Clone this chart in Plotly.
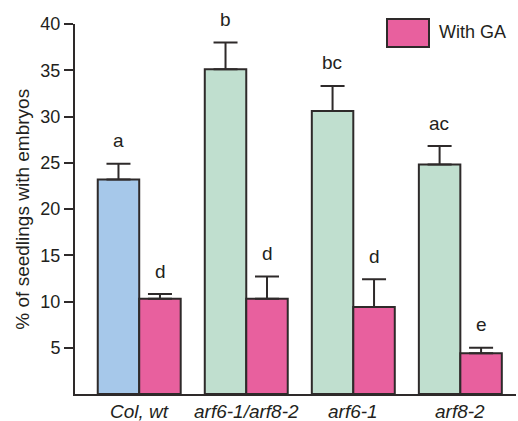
import plotly.graph_objects as go

categories = ["Col, wt", "arf6-1/arf8-2", "arf6-1", "arf8-2"]
without_ga = [23.2, 35.1, 30.6, 24.8]
without_ga_err = [1.7, 2.9, 2.7, 2.0]
with_ga = [10.3, 10.3, 9.4, 4.4]
with_ga_err = [0.5, 2.4, 3.0, 0.6]
letters_without = ["a", "b", "bc", "ac"]
letters_with = ["d", "d", "d", "e"]
ytick_vals = [5, 10, 15, 20, 25, 30, 35, 40]

BLUE = "#a6c8ea"
GREEN = "#c0dfcf"
PINK = "#e8609e"
EDGE = "#2e2a2a"
TXT = "#231f20"
FAM = "Liberation Sans, Arial, sans-serif"

fig = go.Figure()
fig.add_trace(go.Bar(
    x=categories, y=without_ga,
    marker=dict(color=[BLUE, GREEN, GREEN, GREEN], line=dict(color=EDGE, width=2)),
    error_y=dict(type="data", array=without_ga_err, arrayminus=[0] * 4,
                 symmetric=False, color=EDGE, thickness=2, width=12),
    showlegend=False, hoverinfo="skip",
))
fig.add_trace(go.Bar(
    x=categories, y=with_ga, name="With GA",
    marker=dict(color=PINK, line=dict(color=EDGE, width=2)),
    error_y=dict(type="data", array=with_ga_err, arrayminus=[0] * 4,
                 symmetric=False, color=EDGE, thickness=2, width=12),
    showlegend=False, hoverinfo="skip",
))

# significance letters
for i, c in enumerate(categories):
    fig.add_annotation(x=c, y=without_ga[i] + without_ga_err[i], text=letters_without[i],
                       xshift=-21, yshift=23, yanchor="middle", showarrow=False,
                       font=dict(family=FAM, size=19, color=TXT))
    fig.add_annotation(x=c, y=with_ga[i] + with_ga_err[i], text=letters_with[i],
                       xshift=21, yshift=23, yanchor="middle", showarrow=False,
                       font=dict(family=FAM, size=19, color=TXT))
    # category labels (italic)
    fig.add_annotation(x=c, y=0, yref="paper", text=f"<i>{c}</i>", yanchor="top",
                       yshift=-5, showarrow=False,
                       font=dict(family=FAM, size=19, color=TXT))

# y axis title
fig.add_annotation(xref="paper", yref="paper", x=-0.121, y=0.5,
                   text="% of seedlings with embryos", textangle=-90,
                   showarrow=False, xanchor="center", yanchor="middle",
                   font=dict(family=FAM, size=19, color=TXT))

# manual legend
fig.add_shape(type="rect", xref="paper", yref="paper",
              x0=(387 - 75) / 441, x1=(429 - 75) / 441,
              y0=(394 - 47) / 370, y1=(394 - 19) / 370,
              fillcolor=PINK, line=dict(color=EDGE, width=2))
fig.add_annotation(xref="paper", yref="paper", x=(437 - 75) / 441, y=(394 - 32) / 370,
                   text="With GA", showarrow=False, xanchor="left", yanchor="middle",
                   font=dict(family=FAM, size=18, color=TXT))

fig.update_layout(
    width=518, height=421,
    margin=dict(l=75, r=2, t=24, b=27),
    plot_bgcolor="white", paper_bgcolor="white",
    barmode="group", bargap=0.225, bargroupgap=0,
    font=dict(family=FAM, size=18, color=TXT),
    hovermode=False,
)
fig.update_xaxes(
    type="category", range=[-0.6, 3.52], automargin=False,
    showline=True, linecolor=EDGE, linewidth=2,
    ticks="", showgrid=False, showticklabels=False,
)
fig.update_yaxes(
    range=[0, 40], tickvals=ytick_vals, automargin=False,
    showline=True, linecolor=EDGE, linewidth=2,
    ticks="outside", ticklen=9, tickwidth=2, tickcolor=EDGE,
    showgrid=False, zeroline=False, tickfont=dict(size=18),
)

fig.write_html("out.html", config={"displayModeBar": False},
               post_script="document.body.style.margin='0';document.body.style.overflow='hidden';")
